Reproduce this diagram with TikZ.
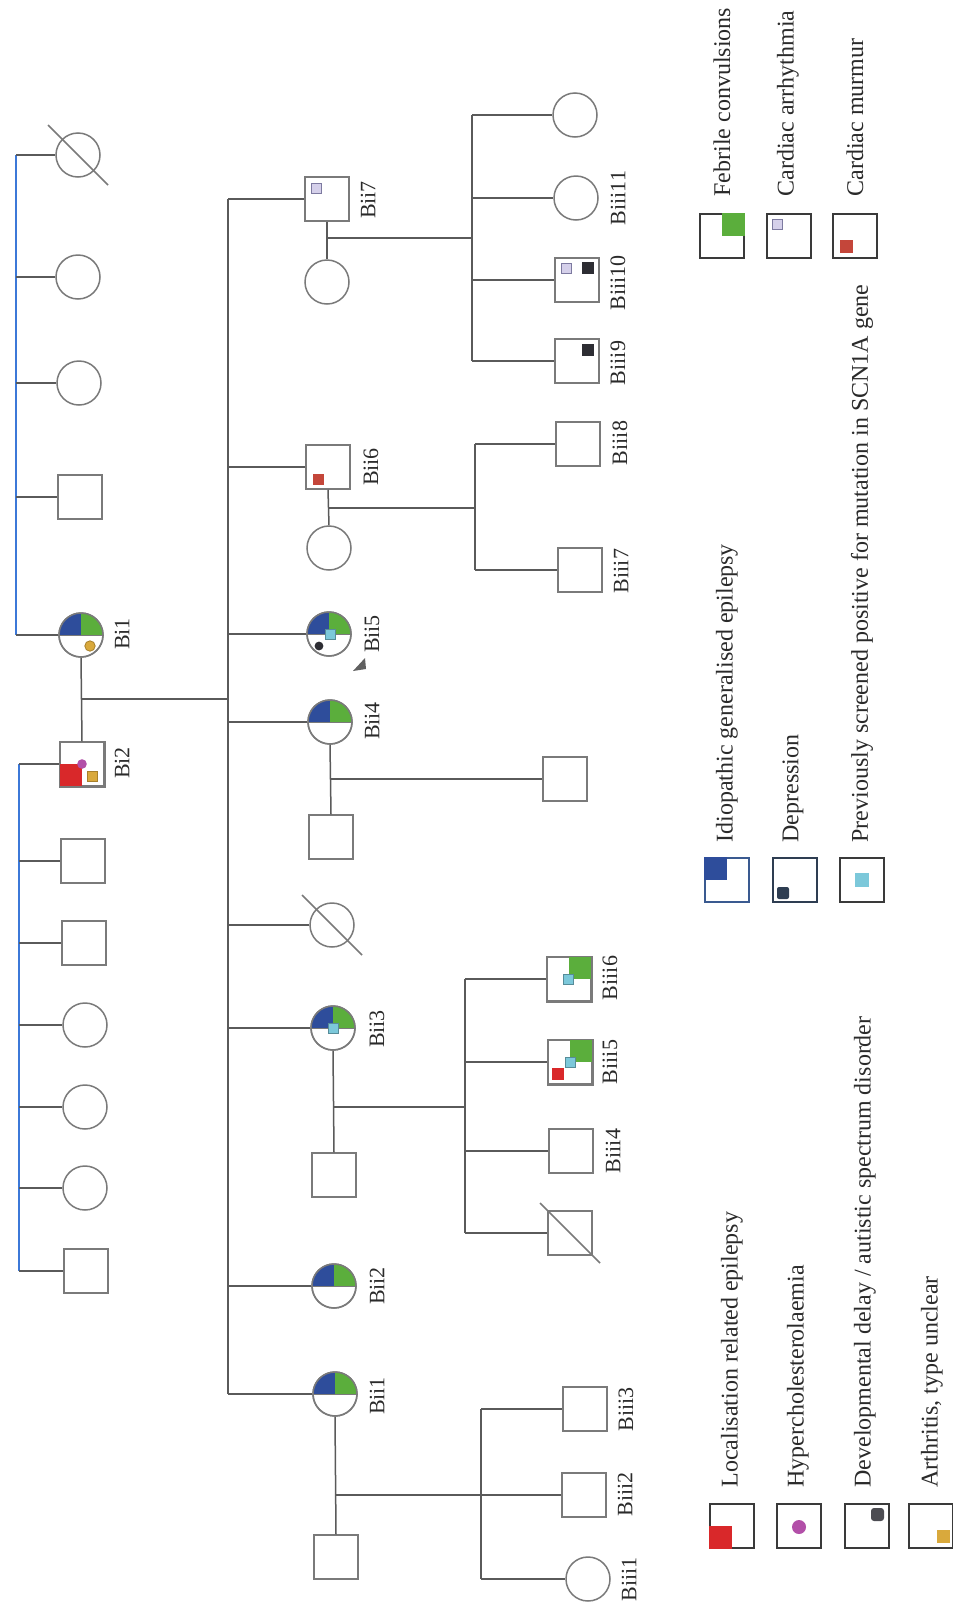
\documentclass[tikz,border=0pt]{standalone}
\usepackage{fontspec}
\setmainfont{Liberation Serif}
\definecolor{navy}{HTML}{2E4D9B}
\definecolor{navyb}{HTML}{3A5A90}
\definecolor{grn}{HTML}{5BAE3C}
\definecolor{cyn}{HTML}{7CC8DA}
\definecolor{redx}{HTML}{D9282A}
\definecolor{gold}{HTML}{D9A93C}
\definecolor{goldd}{HTML}{A8802A}
\definecolor{mag}{HTML}{B24FA8}
\definecolor{lavf}{HTML}{D5D0EA}
\definecolor{lavd}{HTML}{7D7AA0}
\definecolor{mur}{HTML}{C4463A}
\definecolor{dev}{HTML}{2D2D33}
\definecolor{dep}{HTML}{2E3D52}
\definecolor{lnc}{HTML}{5A5A5A}
\definecolor{occ}{HTML}{7A7A7A}
\definecolor{blc}{HTML}{3C78D8}
\definecolor{txc}{HTML}{2A2A2A}
\definecolor{lbc}{HTML}{3A3A3A}
\definecolor{arc}{HTML}{606060}
\newcommand{\quartc}[1]{%
  \begin{scope}
    \clip (#1.center) circle[radius=11pt];
    \fill[navy] (#1.center) rectangle ++(-24,-24);
    \fill[grn] (#1.center) rectangle ++(24,-24);
  \end{scope}
  \draw[occ, line width=0.75pt] (#1.center) circle[radius=11pt];
  \draw[occ, line width=0.5pt] (#1.west) -- (#1.east);
}
\newcommand{\deadmark}[1]{%
  \draw[occ, line width=0.75pt] ([shift={(-30,-30)}]#1.center) -- ([shift={(30,30)}]#1.center);
}
\newcommand{\mk}[4]{% style, cx, cy, size
  \filldraw[#1] ({#2-#4/2},{#3-#4/2}) rectangle ++(#4,#4);
}
\begin{document}
\begin{tikzpicture}[x=0.5pt,y=-0.5pt,
  ln/.style={draw=lnc, line width=0.75pt},
  bl/.style={draw=blc, line width=0.75pt},
  sq/.style={rectangle, draw=occ, line width=0.75pt, minimum size=22pt, inner sep=0pt},
  ci/.style={circle, draw=occ, line width=0.75pt, minimum size=22pt, inner sep=0pt},
  lab/.style={rotate=90, font=\fontsize{11}{13}\selectfont, inner sep=0pt, text=txc},
  leg/.style={rotate=90, anchor=west, font=\fontsize{12}{14}\selectfont, inner sep=0pt, text=txc},
  lbox/.style={rectangle, draw=lbc, line width=1pt, minimum size=22pt, inner sep=0pt},
  lav/.style={fill=lavf, draw=lavd, line width=0.5pt},
]
\fill[white] (0,0) rectangle (953,1612);
\useasboundingbox (0,0) rectangle (953,1612);

%% ---------- Generation I ----------
\node[ci] (d1) at (78,155) {};
\node[ci] (c2) at (78,277) {};
\node[ci] (c3) at (79,383) {};
\node[sq] (s4) at (80,497) {};
\node[ci] (Bi1) at (81,635) {};
\node[sq] (Bi2) at (82,764) {};
\node[sq] (s6) at (83,861) {};
\node[sq] (s7) at (84,943) {};
\node[ci] (c8) at (85,1025) {};
\node[ci] (c9) at (85,1107) {};
\node[ci] (c10) at (85,1188) {};
\node[sq] (s11) at (86,1271) {};
\deadmark{d1}

\coordinate (g1a) at (16,155);
\coordinate (g1b) at (16,635);
\coordinate (g1c) at (19,764);
\coordinate (g1d) at (19,1271);
\draw[bl] (g1a) -- (g1b);
\draw[bl] (g1c) -- (g1d);
\foreach \n in {d1,c2,c3,s4,Bi1} \draw[ln] (\n.west -| g1a) -- (\n.west);
\foreach \n in {Bi2,s6,s7,c8,c9,c10,s11} \draw[ln] (\n.west -| g1c) -- (\n.west);

% Bi1 symbols
\quartc{Bi1}
\filldraw[fill=gold, draw=goldd, line width=0.4pt] (90,646) circle[radius=2.6pt];
% Bi2 symbols
\fill[redx] (Bi2.center) rectangle (Bi2.south west);
\draw[occ, line width=0.75pt] (Bi2.south west) rectangle (Bi2.north east);
\fill[mag] (Bi2.center) circle[radius=2.4pt];
\filldraw[fill=gold, draw=goldd, line width=0.4pt] (87,771) rectangle (97,781);

% mating line Bi1 - Bi2
\draw[ln] (Bi1.south) -- (Bi2.north);
\coordinate (m1) at (81,699);

%% ---------- Generation II ----------
\coordinate (g2a) at (228,199);
\coordinate (g2b) at (228,1394);
\draw[ln] (g2a) -- (g2b);
\draw[ln] (m1) -- (m1 -| g2a);

\node[sq] (Bii7) at (327,199) {};
\node[ci] (Bii7w) at (327,282) {};
\node[sq] (Bii6) at (328,467) {};
\node[ci] (Bii6w) at (329,548) {};
\node[ci] (Bii5) at (329,634) {};
\node[ci] (Bii4) at (330,722) {};
\node[sq] (Bii4h) at (331,837) {};
\node[ci] (dII) at (332,925) {};
\node[ci] (Bii3) at (333,1028) {};
\node[sq] (Bii3h) at (334,1175) {};
\node[ci] (Bii2) at (334,1286) {};
\node[ci] (Bii1) at (335,1394) {};
\node[sq] (Bii1h) at (336,1557) {};
\deadmark{dII}

\foreach \n in {Bii7,Bii6,Bii5,Bii4,dII,Bii3,Bii2,Bii1} \draw[ln] (\n.west -| g2a) -- (\n.west);

\quartc{Bii5}
\quartc{Bii4}
\quartc{Bii3}
\quartc{Bii2}
\quartc{Bii1}
\mk{lav}{316}{188}{10}
\mk{fill=mur, draw=mur}{318}{479}{10}
\mk{fill=cyn, draw=cyn!70!black, line width=0.3pt}{330}{634}{10}
\fill[dev] (319,646) circle[radius=2.2pt];
\mk{fill=cyn, draw=cyn!70!black, line width=0.3pt}{333}{1028}{10}
\fill[arc] (353,671) -- (365,658) -- (366,669) -- cycle;

% couples
\draw[ln] (Bii7.south) -- (Bii7w.north);
\draw[ln] (Bii6.south) -- (Bii6w.north);
\draw[ln] (Bii4.south) -- (Bii4h.north);
\draw[ln] (Bii3.south) -- (Bii3h.north);
\draw[ln] (Bii1.south) -- (Bii1h.north);
\coordinate (m7) at (327,238);
\coordinate (m6) at (328,508);
\coordinate (m4) at (330,779);
\coordinate (m3) at (333,1107);
\coordinate (m1b) at (335,1495);

%% ---------- Generation III ----------
\node[ci] (k1) at (575,115) {};
\node[ci] (Biii11) at (576,198) {};
\node[sq] (Biii10) at (577,280) {};
\node[sq] (Biii9) at (577,361) {};
\coordinate (g7a) at (472,115);
\coordinate (g7b) at (472,361);
\draw[ln] (g7a) -- (g7b);
\draw[ln] (m7) -- (m7 -| g7a);
\foreach \n in {k1,Biii11,Biii10,Biii9} \draw[ln] (\n.west -| g7a) -- (\n.west);
\mk{lav}{566}{268}{10}
\mk{fill=dev, draw=dev}{588}{268}{11}
\mk{fill=dev, draw=dev}{588}{350}{11}

\node[sq] (Biii8) at (578,444) {};
\node[sq] (Biii7) at (580,570) {};
\coordinate (g6a) at (475,444);
\coordinate (g6b) at (475,570);
\draw[ln] (g6a) -- (g6b);
\draw[ln] (m6) -- (m6 -| g6a);
\foreach \n in {Biii8,Biii7} \draw[ln] (\n.west -| g6a) -- (\n.west);

\node[sq] (k4) at (565,779) {};
\draw[ln] (m4) -- (k4.west);

\node[sq] (Biii6) at (569,979) {};
\node[sq] (Biii5) at (570,1062) {};
\node[sq] (Biii4) at (571,1151) {};
\node[sq] (k3d) at (570,1233) {};
\coordinate (g3a) at (465,979);
\coordinate (g3b) at (465,1233);
\draw[ln] (g3a) -- (g3b);
\draw[ln] (m3) -- (m3 -| g3a);
\foreach \n in {Biii6,Biii5,Biii4,k3d} \draw[ln] (\n.west -| g3a) -- (\n.west);
\deadmark{k3d}
\fill[grn] (Biii6.center) rectangle (Biii6.north east);
\draw[occ, line width=0.75pt] (Biii6.south west) rectangle (Biii6.north east);
\mk{fill=cyn, draw=cyn!70!black, line width=0.3pt}{568}{979}{10}
\fill[grn] (Biii5.center) rectangle (Biii5.north east);
\draw[occ, line width=0.75pt] (Biii5.south west) rectangle (Biii5.north east);
\mk{fill=cyn, draw=cyn!70!black, line width=0.3pt}{570}{1062}{10}
\mk{fill=redx, draw=redx}{558}{1074}{11}

\node[sq] (Biii3) at (585,1409) {};
\node[sq] (Biii2) at (584,1495) {};
\node[ci] (Biii1) at (588,1579) {};
\coordinate (g1ea) at (481,1409);
\coordinate (g1eb) at (481,1579);
\draw[ln] (g1ea) -- (g1eb);
\draw[ln] (m1b) -- (Biii2.west);
\foreach \n in {Biii3,Biii1} \draw[ln] (\n.west -| g1ea) -- (\n.west);

%% ---------- Labels ----------
\node[lab] (tBi1) at (122,634) {Bi1};
\node[lab] (tBi2) at (122,763) {Bi2};
\node[lab] (tBii7) at (368,200) {Bii7};
\node[lab] (tBii6) at (371,467) {Bii6};
\node[lab] (tBii5) at (372,634) {Bii5};
\node[lab] (tBii4) at (372,721) {Bii4};
\node[lab] (tBii3) at (377,1029) {Bii3};
\node[lab] (tBii2) at (377,1286) {Bii2};
\node[lab] (tBii1) at (377,1396) {Bii1};
\node[lab] (tBiii11) at (618,198) {Biii11};
\node[lab] (tBiii10) at (618,283) {Biii10};
\node[lab] (tBiii9) at (618,363) {Biii9};
\node[lab] (tBiii8) at (620,443) {Biii8};
\node[lab] (tBiii7) at (621,571) {Biii7};
\node[lab] (tBiii6) at (610,978) {Biii6};
\node[lab] (tBiii5) at (610,1062) {Biii5};
\node[lab] (tBiii4) at (613,1151) {Biii4};
\node[lab] (tBiii3) at (626,1409) {Biii3};
\node[lab] (tBiii2) at (625,1494) {Biii2};
\node[lab] (tBiii1) at (629,1579) {Biii1};

%% ---------- Legend ----------
\node[lbox] (lg1) at (722,236) {};
\fill[grn] (lg1.center) rectangle (lg1.north east);
\node[leg] (lt1) at (722,197) {Febrile convulsions};
\node[lbox] (lg2) at (789,236) {};
\mk{lav}{777}{224}{10}
\node[leg] (lt2) at (788,197) {Cardiac arrhythmia};
\node[lbox] (lg3) at (855,236) {};
\mk{fill=mur, draw=mur}{846}{246}{12}
\node[leg] (lt3) at (855,197) {Cardiac murmur};

\node[lbox, draw=navyb] (lg4) at (727,880) {};
\fill[navy] (lg4.center) rectangle (lg4.north west);
\node[leg] (lt4) at (727,843) {Idiopathic generalised epilepsy};
\node[lbox, draw=dep] (lg5) at (795,880) {};
\fill[dep, rounded corners=1pt] (777,887) rectangle (789,899);
\node[leg] (lt5) at (793,843) {Depression};
\node[lbox] (lg6) at (862,880) {};
\fill[cyn] (855,873) rectangle (869,887);
\node[leg] (lt6) at (862,843) {Previously screened positive for mutation in SCN1A gene};

\node[lbox] (lg7) at (732,1526) {};
\fill[redx] (lg7.center) rectangle (lg7.south west);
\node[leg] (lt7) at (732,1488) {Localisation related epilepsy};
\node[lbox] (lg8) at (799,1526) {};
\fill[mag] (799,1527) circle[radius=3.5pt];
\node[leg] (lt8) at (798,1488) {Hypercholesterolaemia};
\node[lbox] (lg9) at (867,1526) {};
\fill[dev!85!white, rounded corners=1.5pt] (871,1508) rectangle (884,1521);
\node[leg] (lt9) at (865,1488) {Developmental delay / autistic spectrum disorder};
\node[lbox] (lg10) at (931,1526) {};
\fill[gold] (937,1530) rectangle (950,1543);
\node[leg] (lt10) at (932,1488) {Arthritis, type unclear};
\end{tikzpicture}
\end{document}
